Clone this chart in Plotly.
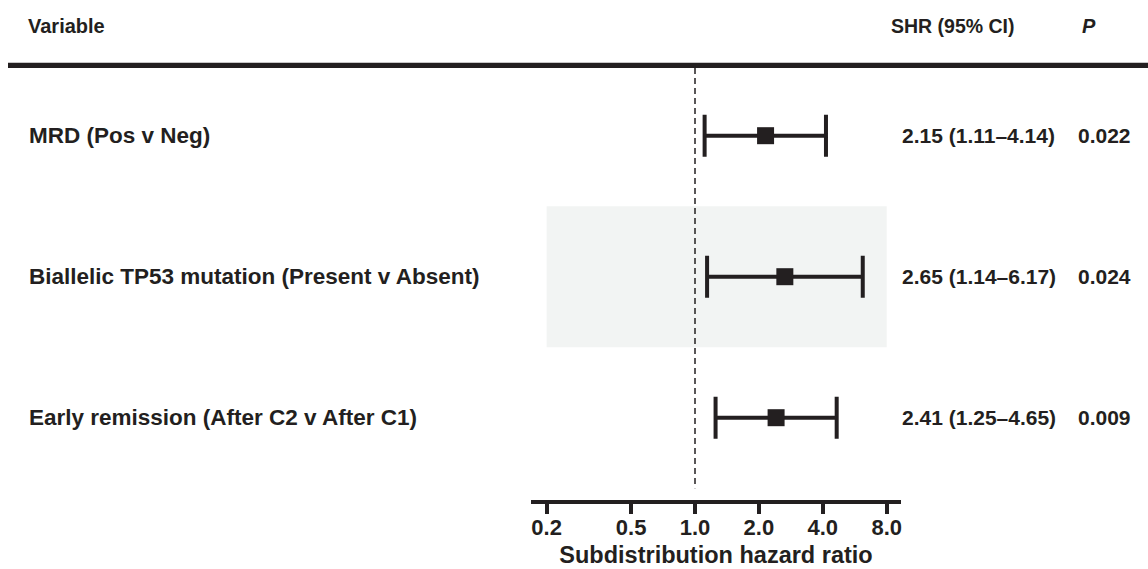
import plotly.graph_objects as go

# ---- data ----
variables = ["MRD (Pos v Neg)",
             "Biallelic TP53 mutation (Present v Absent)",
             "Early remission (After C2 v After C1)"]
shr = [2.15, 2.65, 2.41]
ci_lo = [1.11, 1.14, 1.25]
ci_hi = [4.14, 6.17, 4.65]
p_values = ["0.022", "0.024", "0.009"]
tick_vals = [0.2, 0.5, 1.0, 2.0, 4.0, 8.0]
tick_text = ["0.2", "0.5", "1.0", "2.0", "4.0", "8.0"]
shaded_rows = [1]

W, H = 1148, 569
INK = "#231f20"
FAM = "Liberation Sans, Arial, Helvetica, sans-serif"

rows = list(range(len(variables)))

fig = go.Figure()
fig.add_trace(go.Scatter(
    x=shr, y=rows, mode="markers",
    marker=dict(symbol="square", size=17, color=INK, line=dict(width=0)),
    error_x=dict(type="data", symmetric=False,
                 array=[h - e for h, e in zip(ci_hi, shr)],
                 arrayminus=[e - l for e, l in zip(shr, ci_lo)],
                 color=INK, thickness=4, width=21),
    hoverinfo="skip", showlegend=False,
))

shapes = []
for r in shaded_rows:
    shapes.append(dict(type="rect", xref="x", yref="y", x0=tick_vals[0], x1=tick_vals[-1],
                       y0=r - 0.5, y1=r + 0.5, fillcolor="#f2f4f3", line=dict(width=0),
                       layer="below"))
shapes.append(dict(type="line", xref="x", yref="y", x0=1, x1=1, y0=-0.48, y1=2.5,
                   line=dict(color=INK, width=1.5, dash="6px,4px"), layer="below"))
shapes.append(dict(type="line", xref="paper", yref="paper", x0=8 / W, x1=1,
                   y0=1 - 65.3 / H, y1=1 - 65.3 / H, line=dict(color=INK, width=5.3)))

annotations = []
def txt(x, y, s, size, yref="y", italic=False):
    annotations.append(dict(x=x, y=y, xref="paper", yref=yref, text=s, showarrow=False,
                            xanchor="left", yanchor="middle",
                            font=dict(family=FAM, size=size, color=INK, weight="bold",
                                      style="italic" if italic else "normal")))

for r, v, e, l, h, p in zip(rows, variables, shr, ci_lo, ci_hi, p_values):
    txt(27 / W, r, v, 22.5)
    txt(900 / W, r, f"{e:.2f} ({l:.2f}\u2013{h:.2f})", 21)
    txt(1076 / W, r, p, 21)

txt(26 / W, 1 - 26 / H, "Variable", 20, yref="paper")
txt(889 / W, 1 - 26 / H, "SHR (95% CI)", 19.5, yref="paper")
txt(1080 / W, 1 - 26 / H, "P", 20, yref="paper", italic=True)

# x axis geometry: axis line from px 531 to 901, 1.0 at px 695
px_per_dec = 63.9 / 0.30103
x_lo = (531 - 695) / px_per_dec
x_hi = (901 - 695) / px_per_dec
row_px0, row_step = 135.7, 141.0
bottom_px = 500
y_bottom = (bottom_px - row_px0) / row_step
y_top = (0 - row_px0) / row_step

fig.update_layout(
    width=W, height=H, margin=dict(l=0, r=0, t=0, b=0),
    paper_bgcolor="white", plot_bgcolor="rgba(0,0,0,0)",
    shapes=shapes, annotations=annotations,
    xaxis=dict(type="log", range=[x_lo, x_hi], domain=[531 / W, 901 / W],
               tickvals=tick_vals, ticktext=tick_text,
               showline=True, linecolor=INK, linewidth=4,
               ticks="outside", ticklen=10, tickwidth=4, tickcolor=INK,
               ticklabelstandoff=-5,
               showgrid=False, zeroline=False,
               tickfont=dict(family=FAM, size=22, color=INK, weight="bold"),
               title=dict(text="Subdistribution hazard ratio", standoff=8,
                          font=dict(family=FAM, size=23.5, color=INK, weight="bold"))),
    yaxis=dict(range=[y_bottom, y_top], domain=[(H - bottom_px) / H, 1],
               visible=False, showgrid=False, zeroline=False),
)

fig.write_html("out.html", config={"displayModeBar": False, "staticPlot": True},
               post_script="document.body.style.margin='0px';document.body.style.overflow='hidden';")
